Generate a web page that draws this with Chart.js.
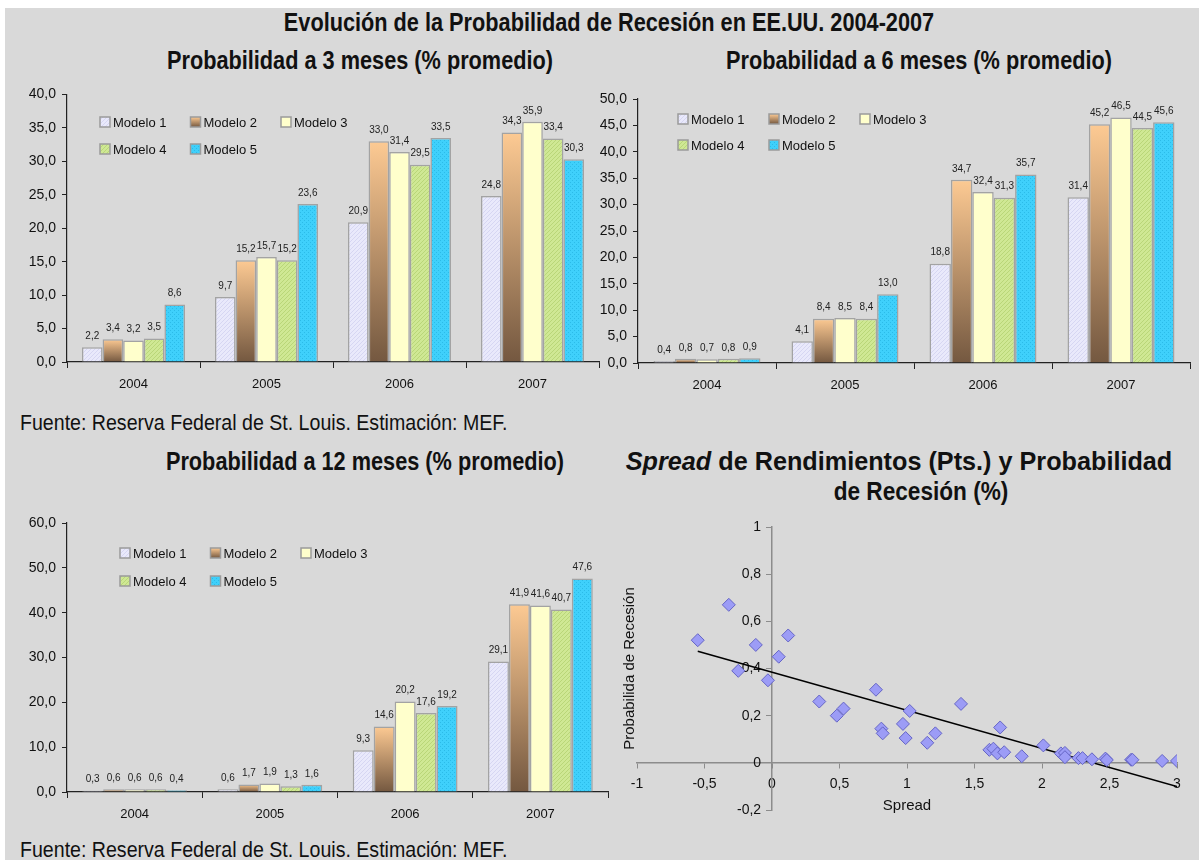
<!DOCTYPE html>
<html lang="es">
<head>
<meta charset="UTF-8">
<title>Probabilidad de Recesión EE.UU.</title>
<script src="https://cdn.jsdelivr.net/npm/chart.js"></script>
<style>
  body { margin: 0; background: #fff; }
  #page { position: relative; width: 1199px; height: 860px; overflow: hidden; background: #fff;
          font-family: 'Liberation Sans', Arial, sans-serif; color: #111; }
  #bg { position: absolute; left: 5px; top: 8px; right: 0; bottom: 0; background: #d9d9d9; }
  .t { position: absolute; white-space: nowrap; font-weight: bold; font-size: 26px; line-height: 30px;
       transform: translateX(-50%) scaleX(0.835); }
  .src { position: absolute; white-space: nowrap; font-size: 22px; line-height: 26px; left: 20px;
         transform-origin: 0 0; transform: scaleX(0.89); }
  .box { position: absolute; }
</style>
</head>
<body>
<div id="page">
  <div id="bg"></div>
  <div class="t" style="left:609px; top:7px;">Evolución de la Probabilidad de Recesión en EE.UU. 2004-2007</div>
  <div class="t" style="left:360px; top:45px;">Probabilidad a 3 meses (% promedio)</div>
  <div class="t" style="left:919px; top:45px;">Probabilidad a 6 meses (% promedio)</div>
  <div class="src" style="top:410px;">Fuente: Reserva Federal de St. Louis. Estimación: MEF.</div>
  <div class="t" style="left:365px; top:446px;">Probabilidad a 12 meses (% promedio)</div>
  <div class="t" style="left:899px; top:446px; transform: translateX(-50%) scaleX(0.97);"><i>Spread</i> de Rendimientos (Pts.) y Probabilidad</div>
  <div class="t" style="left:921px; top:476px; transform: translateX(-50%) scaleX(0.87);">de Recesión (%)</div>
  <div class="src" style="top:837px;">Fuente: Reserva Federal de St. Louis. Estimación: MEF.</div>

  <div class="box" style="left:0; top:80px; width:605px; height:320px;"><canvas id="c3"></canvas></div>
  <div class="box" style="left:600px; top:80px; width:599px; height:320px;"><canvas id="c6"></canvas></div>
  <div class="box" style="left:0; top:490px; width:615px; height:340px;"><canvas id="c12"></canvas></div>
  <div class="box" style="left:600px; top:500px; width:599px; height:350px;"><canvas id="cs"></canvas></div>
</div>
<script>
var years = ['2004', '2005', '2006', '2007'];
var modelos = ['Modelo 1', 'Modelo 2', 'Modelo 3', 'Modelo 4', 'Modelo 5'];

// probabilidad a 3 meses
var m1_3 = [2.2, 9.7, 20.9, 24.8];
var m2_3 = [3.4, 15.2, 33.0, 34.3];
var m3_3 = [3.2, 15.7, 31.4, 35.9];
var m4_3 = [3.5, 15.2, 29.5, 33.4];
var m5_3 = [8.6, 23.6, 33.5, 30.3];

// probabilidad a 6 meses
var m1_6 = [0.4, 4.1, 18.8, 31.4];
var m2_6 = [0.8, 8.4, 34.7, 45.2];
var m3_6 = [0.7, 8.5, 32.4, 46.5];
var m4_6 = [0.8, 8.4, 31.3, 44.5];
var m5_6 = [0.9, 13.0, 35.7, 45.6];

// probabilidad a 12 meses
var m1_12 = [0.3, 0.6, 9.3, 29.1];
var m2_12 = [0.6, 1.7, 14.6, 41.9];
var m3_12 = [0.6, 1.9, 20.2, 41.6];
var m4_12 = [0.6, 1.3, 17.6, 40.7];
var m5_12 = [0.4, 1.6, 19.2, 47.6];

// spread vs probabilidad
var spread = [-0.55, -0.32, -0.12, -0.25, -0.03, 0.05, 0.12, 0.35, 0.48, 0.53, 0.77, 0.81, 0.82,
              0.97, 0.99, 1.02, 1.15, 1.21, 1.40, 1.61, 1.64, 1.67, 1.69, 1.72, 1.85, 2.01, 2.14,
              2.17, 2.17, 2.27, 2.30, 2.37, 2.47, 2.48, 2.66, 2.67, 2.89, 3.00];
var probRec = [0.52, 0.67, 0.50, 0.39, 0.35, 0.45, 0.54, 0.26, 0.20, 0.23, 0.31, 0.145, 0.125,
               0.165, 0.105, 0.22, 0.085, 0.125, 0.25, 0.055, 0.06, 0.04, 0.15, 0.045, 0.028, 0.074, 0.04,
               0.042, 0.024, 0.02, 0.02, 0.015, 0.018, 0.012, 0.013, 0.013, 0.008, 0.008];
var trendX = [-0.55, 3.0];
var trendY = [0.473, -0.1];

var FONT = "'Liberation Sans', Arial, sans-serif";
Chart.defaults.font.family = FONT;
Chart.defaults.color = '#111';

function makePattern(bg, fg, kind) {
  var c = document.createElement('canvas');
  c.width = 4; c.height = 4;
  var x = c.getContext('2d');
  x.fillStyle = bg; x.fillRect(0, 0, 4, 4);
  x.fillStyle = fg;
  if (kind === 'diag') {
    x.fillRect(3, 0, 1, 1); x.fillRect(2, 1, 1, 1); x.fillRect(1, 2, 1, 1); x.fillRect(0, 3, 1, 1);
  } else {
    x.fillRect(0, 0, 1, 1); x.fillRect(2, 2, 1, 1);
  }
  return x.createPattern(c, 'repeat');
}

var fill1 = makePattern('#e9e9fb', '#d6d6f2', 'diag');
var fill3 = '#ffffcc';
var fill4 = makePattern('#cfe894', '#b9d678', 'diag');
var fill5 = makePattern('#3fd0fb', '#2bbbe8', 'dots');

function gradFill(ctx) {
  var chart = ctx.chart;
  if (!chart.chartArea || ctx.type !== 'data') return '#c09068';
  var y = chart.scales.y;
  var top = y.getPixelForValue(ctx.raw);
  var bot = y.getPixelForValue(0);
  if (bot - top < 1) return '#a07c58';
  var g = chart.ctx.createLinearGradient(0, top, 0, bot);
  g.addColorStop(0, '#fdca93');
  g.addColorStop(1, '#745840');
  return g;
}

function legendFill(i, c, x, y) {
  if (i === 1) {
    var g = c.createLinearGradient(0, y, 0, y + 10);
    g.addColorStop(0, '#fdca93'); g.addColorStop(1, '#745840');
    return g;
  }
  return [fill1, null, fill3, fill4, fill5][i];
}

function fmt1(v) { return v.toFixed(1).replace('.', ','); }

var barLabels = {
  id: 'barLabels',
  afterDatasetsDraw: function (chart) {
    var c = chart.ctx;
    c.save();
    c.font = '10px ' + FONT;
    c.fillStyle = '#222';
    c.textAlign = 'center';
    c.textBaseline = 'bottom';
    chart.data.datasets.forEach(function (ds, i) {
      chart.getDatasetMeta(i).data.forEach(function (bar, j) {
        c.fillText(fmt1(ds.data[j]), bar.x, bar.y - 6);
      });
    });
    c.restore();
  }
};

var boxLegend = {
  id: 'boxLegend',
  afterDraw: function (chart, args, opts) {
    var c = chart.ctx;
    c.save();
    c.font = '13px ' + FONT;
    c.textBaseline = 'middle';
    modelos.forEach(function (name, i) {
      var x = opts.x + (i % 3) * opts.dx;
      var y = opts.y + Math.floor(i / 3) * opts.dy;
      c.fillStyle = legendFill(i, c, x, y - 5);
      c.fillRect(x, y - 5, 10, 10);
      c.strokeStyle = '#9a9a9a';
      c.lineWidth = 1.5;
      c.strokeRect(x, y - 5, 10, 10);
      c.fillStyle = '#111';
      c.fillText(name, x + 13, y + 1);
    });
    c.restore();
  }
};

function barChart(id, arrays, ymax, ystep, pad, yWidth, xHeight, leg) {
  var fills = [fill1, gradFill, fill3, fill4, fill5];
  return new Chart(document.getElementById(id), {
    type: 'bar',
    data: {
      labels: years,
      datasets: modelos.map(function (name, i) {
        return {
          label: name,
          data: arrays[i],
          backgroundColor: fills[i],
          borderColor: '#a3a3a3',
          borderWidth: 1.5,
          barPercentage: 1,
          categoryPercentage: 0.775
        };
      })
    },
    options: {
      responsive: true,
      maintainAspectRatio: false,
      animation: false,
      layout: { padding: pad },
      plugins: {
        legend: { display: false },
        tooltip: { enabled: false },
        boxLegend: leg
      },
      scales: {
        x: {
          grid: { drawOnChartArea: false, offset: true, color: '#222', tickLength: 6 },
          border: { color: '#222', width: 1.2 },
          ticks: { font: { size: 13 }, padding: 9, color: '#111' },
          afterFit: function (s) { s.height = xHeight; }
        },
        y: {
          min: 0, max: ymax,
          grid: { drawOnChartArea: false, color: '#222', tickLength: 5 },
          border: { color: '#222', width: 1.2 },
          ticks: { stepSize: ystep, font: { size: 14 }, padding: 6, color: '#111',
                   callback: function (v) { return fmt1(v); } },
          afterFit: function (s) { s.width = yWidth; }
        }
      }
    },
    plugins: [barLabels, boxLegend]
  });
}

barChart('c3', [m1_3, m2_3, m3_3, m4_3, m5_3], 40, 5,
  { top: 14, right: 6, left: 0, bottom: 0 }, 67, 38, { x: 100, y: 42, dx: 90.5, dy: 27 });
barChart('c6', [m1_6, m2_6, m3_6, m4_6, m5_6], 50, 5,
  { top: 19, right: 9, left: 0, bottom: 0 }, 38, 37, { x: 78, y: 39, dx: 91, dy: 26 });
barChart('c12', [m1_12, m2_12, m3_12, m4_12, m5_12], 60, 10,
  { top: 33, right: 7, left: 0, bottom: 0 }, 67, 38, { x: 120, y: 63, dx: 90.5, dy: 28 });

var axisTitles = {
  id: 'axisTitles',
  afterDraw: function (chart) {
    var c = chart.ctx, a = chart.chartArea;
    c.save();
    c.font = '15px ' + FONT;
    c.fillStyle = '#111';
    c.textAlign = 'center';
    c.textBaseline = 'middle';
    c.fillText('Spread', (a.left + a.right) / 2, 306);
    c.translate(30, (a.top + a.bottom) / 2);
    c.rotate(-Math.PI / 2);
    c.fillText('Probabilida de Recesión', 0, 0);
    c.restore();
  }
};

function decComma(v) { return String(Math.round(v * 10) / 10).replace('.', ','); }

new Chart(document.getElementById('cs'), {
  type: 'scatter',
  data: {
    datasets: [{
      data: spread.map(function (x, i) { return { x: x, y: probRec[i] }; }),
      pointStyle: 'rectRot',
      pointRadius: 6.5,
      backgroundColor: '#9c9cf6',
      borderColor: '#6464c4',
      borderWidth: 1
    }, {
      data: trendX.map(function (x, i) { return { x: x, y: trendY[i] }; }),
      showLine: true,
      borderColor: '#000',
      borderWidth: 1.5,
      pointRadius: 0
    }]
  },
  options: {
    responsive: true,
    maintainAspectRatio: false,
    animation: false,
    layout: { padding: { left: 37, right: 22, top: 27, bottom: 40 } },
    plugins: { legend: { display: false }, tooltip: { enabled: false } },
    scales: {
      x: {
        type: 'linear', min: -1, max: 3, position: { y: 0 },
        grid: { drawOnChartArea: false, color: '#8c8c8c', tickLength: 5 },
        border: { color: '#8c8c8c', width: 1.5 },
        ticks: { stepSize: 0.5, autoSkip: false, font: { size: 14 }, padding: 8, color: '#111', callback: decComma }
      },
      y: {
        type: 'linear', min: -0.2, max: 1, position: { x: 0 },
        grid: { drawOnChartArea: false, color: '#8c8c8c', tickLength: 5 },
        border: { color: '#8c8c8c', width: 1.5 },
        // labels of a positioned axis sit on the axis line, so pad them on the right
        ticks: { stepSize: 0.2, autoSkip: false, font: { size: 14 }, color: '#111',
                 callback: function (v) { return decComma(v) + '\u2002 '; } }
      }
    }
  },
  plugins: [axisTitles]
});
</script>
</body>
</html>
